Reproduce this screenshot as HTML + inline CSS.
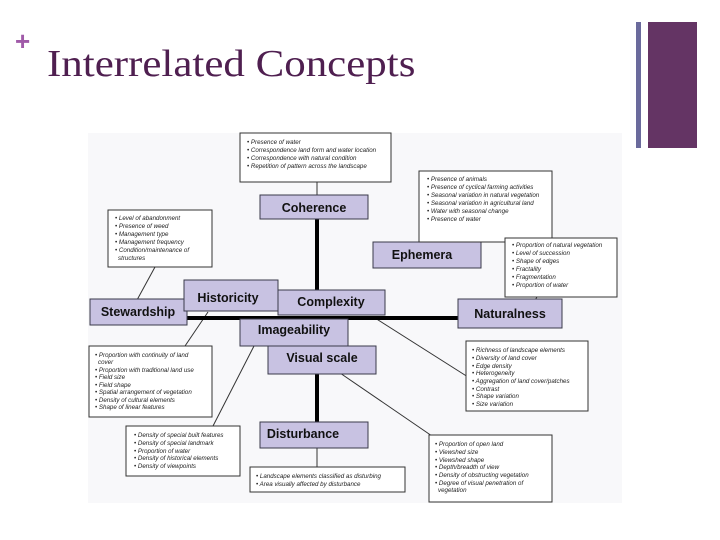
<!DOCTYPE html>
<html><head><meta charset="utf-8"><style>
body{margin:0;width:720px;height:540px;background:#fff;overflow:hidden;position:relative;font-family:"Liberation Sans",sans-serif}
.t{position:absolute;left:47px;top:42px;font-family:"Liberation Serif",serif;font-size:38px;color:#4f1f50;transform:scaleX(1.13);transform-origin:left top;white-space:nowrap}
.p{position:absolute;left:15px;top:26px;font-size:26px;font-weight:bold;color:#a05aa8}
svg{position:absolute;left:0;top:0}
.n{fill:#c8c2e2;stroke:#3a3a4a;stroke-width:1}
.nt{font-family:"Liberation Sans",sans-serif;font-weight:bold;font-size:12.5px;fill:#111;text-anchor:middle}
.b{fill:#fff;stroke:#333;stroke-width:1}
.l{font-family:"Liberation Sans",sans-serif;font-style:italic;font-size:6.2px;fill:#222}
</style></head><body>
<div class="p">+</div>
<div class="t">Interrelated Concepts</div>
<div style="position:absolute;left:636px;top:22px;width:5px;height:126px;background:#6a6a9c"></div>
<div style="position:absolute;left:648px;top:22px;width:49px;height:126px;background:#643464"></div>
<svg width="720" height="540">
<rect x="88" y="133" width="534" height="370" fill="#f8f8fa"/>
<g stroke="#333" stroke-width="1" fill="none">
<line x1="317" y1="182" x2="317" y2="195"/>
<line x1="455" y1="242" x2="453" y2="250"/>
<line x1="537" y1="297" x2="535" y2="300"/>
<line x1="155" y1="267" x2="137" y2="300"/>
<line x1="208" y1="312" x2="185" y2="346"/>
<line x1="254" y1="346" x2="213" y2="426"/>
<line x1="375" y1="318" x2="468" y2="377"/>
<line x1="340" y1="373" x2="432" y2="436"/>
<line x1="317" y1="448" x2="317" y2="467"/>
</g>
<g stroke="#000" stroke-width="4">
<line x1="317" y1="219" x2="317" y2="290"/>
<line x1="185" y1="318" x2="460" y2="318"/>
<line x1="317" y1="374" x2="317" y2="422"/>
</g>
<rect class="n" x="260" y="195" width="108" height="24"/><text class="nt" x="314" y="212">Coherence</text>
<rect class="n" x="373" y="242" width="108" height="26"/><text class="nt" x="422" y="259">Ephemera</text>
<rect class="n" x="458" y="299" width="104" height="29"/><text class="nt" x="510" y="318">Naturalness</text>
<rect class="n" x="90" y="299" width="97" height="26"/><text class="nt" x="138" y="316">Stewardship</text>
<rect class="n" x="184" y="280" width="94" height="31"/><text class="nt" x="228" y="302">Historicity</text>
<rect class="n" x="278" y="290" width="107" height="25"/><text class="nt" x="331" y="306">Complexity</text>
<rect class="n" x="240" y="319" width="108" height="27"/><text class="nt" x="294" y="334">Imageability</text>
<rect class="n" x="268" y="346" width="108" height="28"/><text class="nt" x="322" y="362">Visual scale</text>
<rect class="n" x="260" y="422" width="108" height="26"/><text class="nt" x="303" y="438">Disturbance</text>
<rect class="b" x="240" y="133" width="151" height="49"/>
<g class="l"><text x="247" y="144">•  Presence of water</text><text x="247" y="152">•  Correspondence land form and water location</text><text x="247" y="160">•  Correspondence with natural condition</text><text x="247" y="168">•  Repetition of pattern across the landscape</text></g>
<rect class="b" x="419" y="171" width="133" height="71"/>
<g class="l"><text x="427" y="181">•  Presence of animals</text><text x="427" y="189">•  Presence of cyclical farming activities</text><text x="427" y="197">•  Seasonal variation in natural vegetation</text><text x="427" y="205">•  Seasonal variation in agricultural land</text><text x="427" y="213">•  Water with seasonal change</text><text x="427" y="221">•  Presence of water</text></g>
<rect class="b" x="505" y="238" width="112" height="59"/>
<g class="l"><text x="512" y="247">•  Proportion of natural vegetation</text><text x="512" y="255">•  Level of succession</text><text x="512" y="263">•  Shape of edges</text><text x="512" y="271">•  Fractality</text><text x="512" y="279">•  Fragmentation</text><text x="512" y="287">•  Proportion of water</text></g>
<rect class="b" x="108" y="210" width="104" height="57"/>
<g class="l"><text x="115" y="220">•  Level of abandonment</text><text x="115" y="228">•  Presence of weed</text><text x="115" y="236">•  Management type</text><text x="115" y="244">•  Management frequency</text><text x="115" y="252">•  Condition/maintenance of</text><text x="118" y="260">structures</text></g>
<rect class="b" x="89" y="346" width="123" height="71"/>
<g class="l"><text x="95" y="357">•  Proportion with continuity of land</text><text x="98" y="364">cover</text><text x="95" y="372">•  Proportion with traditional land use</text><text x="95" y="379">•  Field size</text><text x="95" y="387">•  Field shape</text><text x="95" y="394">•  Spatial arrangement of vegetation</text><text x="95" y="402">•  Density of cultural elements</text><text x="95" y="409">•  Shape of linear features</text></g>
<rect class="b" x="126" y="426" width="114" height="50"/>
<g class="l"><text x="134" y="437">•  Density of special built features</text><text x="134" y="445">•  Density of special landmark</text><text x="134" y="453">•  Proportion of water</text><text x="134" y="460">•  Density of historical elements</text><text x="134" y="468">•  Density of viewpoints</text></g>
<rect class="b" x="250" y="467" width="155" height="25"/>
<g class="l"><text x="256" y="478">•  Landscape elements classified as disturbing</text><text x="256" y="486">•  Area visually affected by disturbance</text></g>
<rect class="b" x="466" y="341" width="122" height="70"/>
<g class="l"><text x="472" y="352">•  Richness of landscape elements</text><text x="472" y="360">•  Diversity of land cover</text><text x="472" y="368">•  Edge density</text><text x="472" y="375">•  Heterogeneity</text><text x="472" y="383">•  Aggregation of land cover/patches</text><text x="472" y="391">•  Contrast</text><text x="472" y="398">•  Shape variation</text><text x="472" y="406">•  Size variation</text></g>
<rect class="b" x="429" y="435" width="123" height="67"/>
<g class="l"><text x="435" y="446">•  Proportion of open land</text><text x="435" y="454">•  Viewshed size</text><text x="435" y="462">•  Viewshed shape</text><text x="435" y="469">•  Depth/breadth of view</text><text x="435" y="477">•  Density of obstructing vegetation</text><text x="435" y="485">•  Degree of visual penetration of</text><text x="438" y="492">vegetation</text></g>
</svg>
</body></html>
